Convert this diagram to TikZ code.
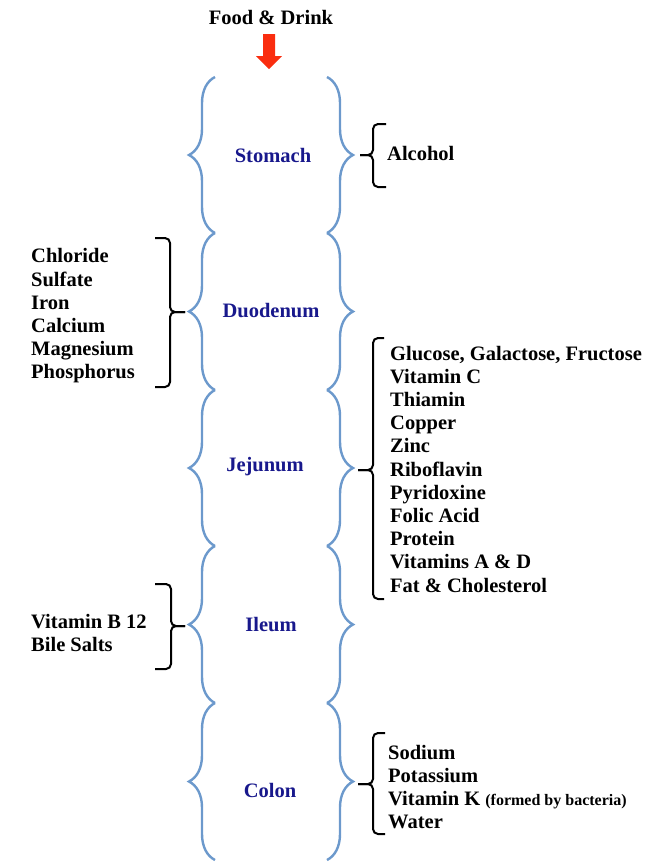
\documentclass[tikz,border=0pt]{standalone}
\usepackage{fontspec}
\setmainfont{Liberation Serif}
\usetikzlibrary{decorations.pathreplacing}

\definecolor{bracecol}{RGB}{108,153,204}
\definecolor{organcol}{RGB}{24,24,140}
\definecolor{arrowred}{RGB}{250,45,15}

\tikzset{
  organ/.style={decorate,decoration={brace,amplitude=26pt},draw=bracecol,line width=2.4pt},
  part/.style={text=organcol,font=\fontsize{20.5}{23}\bfseries\selectfont,inner sep=0pt},
  nutr/.style={align=left,anchor=west,inner sep=0pt,font=\fontsize{20.5}{23.2}\bfseries\selectfont},
  bracket/.style={line width=2pt,rounded corners=5pt}
}

\begin{document}
\begin{tikzpicture}[x=1pt,y=-1pt]
  \useasboundingbox (0,0) rectangle (657,863);
  % intake
  \node[inner sep=0pt,font=\fontsize{20.5}{23}\bfseries\selectfont] (food) at (271,17) {Food \& Drink};
  \fill[arrowred] (263,34) -- (275,34) -- (275,56) -- (282,56) -- (269,69)
    -- (256,56) -- (263,56) -- cycle;
  % the tract
  \draw[organ] (215,233) -- (215,77);
  \draw[organ] (327,77) -- (327,233);
  \draw[organ] (215,390) -- (215,233);
  \draw[organ] (327,233) -- (327,390);
  \draw[organ] (215,546) -- (215,390);
  \draw[organ] (327,390) -- (327,546);
  \draw[organ] (215,703) -- (215,546);
  \draw[organ] (327,546) -- (327,703);
  \draw[organ] (215,860) -- (215,703);
  \draw[organ] (327,703) -- (327,860);
  \node[part] (stomach) at (273,155) {Stomach};
  \node[part] (duodenum) at (271,311) {Duodenum};
  \node[part] (jejunum) at (265,467) {Jejunum};
  \node[part] (ileum) at (271,625) {Ileum};
  \node[part] (colon) at (270,790) {Colon};
  % what is absorbed where
  \node[nutr] (alc) at (387,153) {Alcohol};
  \node[nutr] (duomin) at (31,316) {Chloride\\Sulfate\\Iron\\Calcium\\Magnesium\\Phosphorus};
  \node[nutr] (jejnut) at (390,469) {Glucose, Galactose, Fructose\\Vitamin C\\Thiamin\\Copper\\Zinc\\Riboflavin\\Pyridoxine\\Folic Acid\\Protein\\Vitamins A \& D\\Fat \& Cholesterol};
  \node[nutr] (ilenut) at (31,633) {Vitamin B 12\\Bile Salts};
  \node[nutr] (colnut) at (388,787) {Sodium\\Potassium\\Vitamin K {\fontsize{16}{18}\selectfont(formed by bacteria)}\\Water};
  \draw[bracket] (386,124) -- (373,124) -- (373,155) -- (360,155);
  \draw[bracket] (386,187) -- (373,187) -- (373,155) -- (360,155);
  \draw[bracket] (155,238) -- (170,238) -- (170,312) -- (185,312);
  \draw[bracket] (155,387) -- (170,387) -- (170,312) -- (185,312);
  \draw[bracket] (384,338) -- (373,338) -- (373,470) -- (358,470);
  \draw[bracket] (384,599) -- (373,599) -- (373,470) -- (358,470);
  \draw[bracket] (155,584) -- (171,584) -- (171,626) -- (185,626);
  \draw[bracket] (155,669) -- (171,669) -- (171,626) -- (185,626);
  \draw[bracket] (385,733) -- (373,733) -- (373,784) -- (358,784);
  \draw[bracket] (385,834) -- (373,834) -- (373,784) -- (358,784);
\end{tikzpicture}
\end{document}
